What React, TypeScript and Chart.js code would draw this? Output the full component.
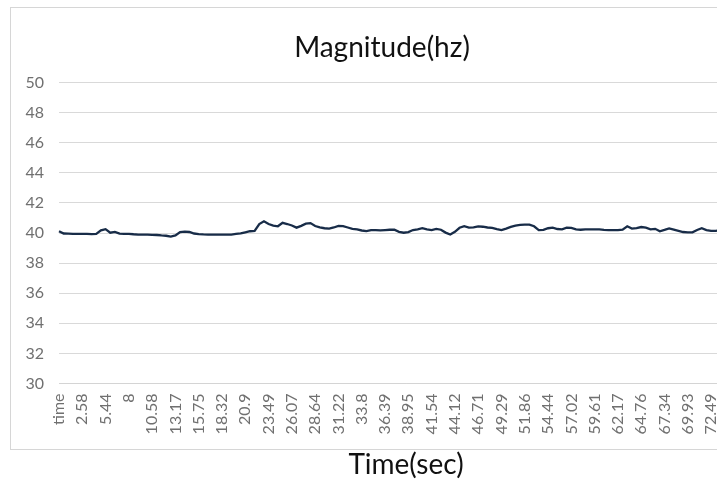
import React, { useEffect, useRef } from "react";
import { Chart, registerables } from "chart.js";

Chart.register(...registerables);

const tickLabels = [
  "time", "2.58", "5.44", "8", "10.58", "13.17", "15.75", "18.32", "20.9", "23.49",
  "26.07", "28.64", "31.22", "33.8", "36.39", "38.95", "41.54", "44.12", "46.71", "49.29",
  "51.86", "54.44", "57.02", "59.61", "62.17", "64.76", "67.34", "69.93", "72.49",
];

const pointsPerLabel = 5;

const magnitude = [
  40.12, 39.97, 39.96, 39.95, 39.95, 39.95, 39.94, 39.93, 39.95, 40.18,
  40.26, 40.02, 40.08, 39.96, 39.95, 39.95, 39.92, 39.9, 39.9, 39.9,
  39.88, 39.87, 39.84, 39.82, 39.76, 39.84, 40.07, 40.1, 40.07, 39.97,
  39.93, 39.91, 39.9, 39.9, 39.9, 39.9, 39.89, 39.9, 39.94, 39.98,
  40.05, 40.12, 40.15, 40.6, 40.78, 40.6, 40.5, 40.45, 40.68, 40.6,
  40.5, 40.36, 40.48, 40.62, 40.66, 40.47, 40.38, 40.32, 40.3, 40.37,
  40.47, 40.46, 40.37, 40.28, 40.24, 40.17, 40.13, 40.19, 40.2, 40.18,
  40.2, 40.22, 40.22, 40.08, 40.02, 40.06, 40.2, 40.25, 40.32, 40.25,
  40.2, 40.28, 40.22, 40.03, 39.9, 40.08, 40.35, 40.46, 40.36, 40.38,
  40.44, 40.42, 40.37, 40.34, 40.26, 40.2, 40.3, 40.41, 40.5, 40.55,
  40.56, 40.56, 40.45, 40.19, 40.21, 40.32, 40.36, 40.27, 40.25, 40.36,
  40.34, 40.24, 40.22, 40.24, 40.24, 40.24, 40.24, 40.21, 40.2, 40.19,
  40.19, 40.23, 40.45, 40.3, 40.33, 40.4, 40.36, 40.25, 40.28, 40.12,
  40.21, 40.31, 40.23, 40.15, 40.07, 40.04, 40.05, 40.2, 40.32, 40.2,
  40.15, 40.15, 40.2, 40.25, 40.3, 40.22, 40.15, 40.12, 40.2, 40.22,
];

const yMin = 30;
const yMax = 50;
const yStep = 2;

const chartTitle = "Magnitude(hz)";
const xTitle = "Time(sec)";

const FONT = "Lato, 'Open Sans', sans-serif";

export default function App() {
  const canvasRef = useRef<HTMLCanvasElement | null>(null);

  useEffect(() => {
    if (!canvasRef.current) return;
    const categories = magnitude.map((_, i) =>
      i % pointsPerLabel === 0 ? tickLabels[i / pointsPerLabel] ?? "" : ""
    );
    const chart = new Chart(canvasRef.current, {
      type: "line",
      data: {
        labels: categories,
        datasets: [
          {
            data: magnitude,
            borderColor: "#182c48",
            borderWidth: 2.3,
            pointRadius: 0,
            tension: 0,
            fill: false,
          },
        ],
      },
      options: {
        animation: false,
        responsive: true,
        maintainAspectRatio: false,
        layout: { padding: { left: 11, right: 17, top: 0, bottom: 0 } },
        plugins: {
          legend: { display: false },
          tooltip: { enabled: false },
          title: {
            display: true,
            text: chartTitle,
            color: "#111",
            font: { family: FONT, size: 28, weight: "normal" },
            padding: { top: 31, bottom: 18 },
          },
        },
        scales: {
          x: {
            type: "category",
            offset: false,
            grid: { display: false, drawTicks: false },
            border: { display: true, color: "#d4d4d4", width: 1 },
            ticks: {
              autoSkip: false,
              minRotation: 90,
              maxRotation: 90,
              padding: 10,
              color: "#707070",
              font: { family: FONT, size: 16 },
            },
            title: {
              display: true,
              text: xTitle,
              color: "#111",
              font: { family: FONT, size: 28, weight: "normal" },
              padding: { top: 4, bottom: 1 },
            },
            afterFit: (scale: any) => {
              scale.paddingLeft = 0;
              scale.paddingRight = 0;
            },
          },
          y: {
            min: yMin,
            max: yMax,
            grid: { color: "#d9d9d9", lineWidth: 1, drawTicks: false },
            border: { display: false },
            ticks: {
              stepSize: yStep,
              padding: 15,
              color: "#707070",
              font: { family: FONT, size: 16 },
            },
            afterFit: (scale: any) => {
              scale.width = 48;
            },
          },
        },
      },
    });
    return () => chart.destroy();
  }, []);

  return (
    <div
      style={{
        position: "fixed",
        left: 0,
        top: 0,
        width: 717,
        height: 483,
        overflow: "hidden",
        background: "#fff",
      }}
    >
      <div
        style={{
          position: "absolute",
          left: 10,
          top: 7,
          width: 780,
          height: 443,
          boxSizing: "border-box",
          border: "1px solid #d6d6d6",
        }}
      />
      <div style={{ position: "absolute", left: 0, top: 0, width: 770, height: 483 }}>
        <canvas ref={canvasRef} style={{ display: "block" }} />
      </div>
    </div>
  );
}
